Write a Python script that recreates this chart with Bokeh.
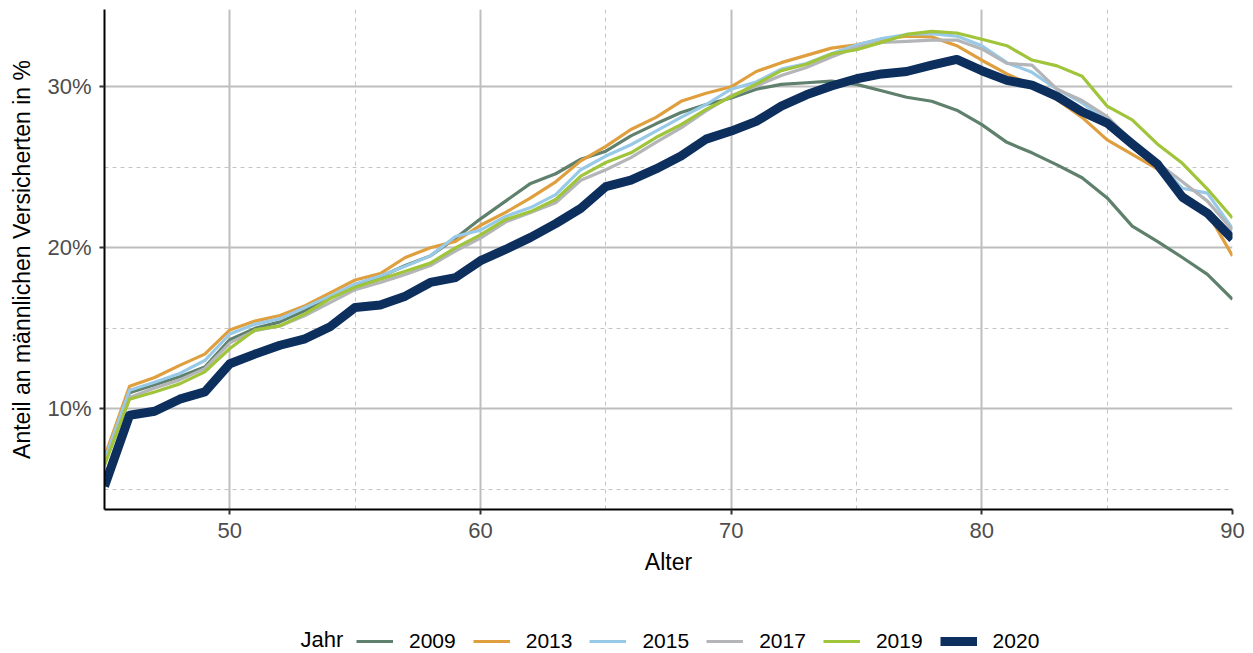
from bokeh.plotting import figure
from bokeh.layouts import column
from bokeh.models import (Range1d, SingleIntervalTicker, PrintfTickFormatter,
                          Legend, LegendItem, Label)
from bokeh.embed import file_html
from bokeh.resources import INLINE

ages = list(range(45, 91))

jahr_2009 = [6.7, 11.0, 11.5, 12.0, 12.6, 14.3, 15.0, 15.4, 16.1, 16.9,
             17.7, 18.2, 18.9, 19.5, 20.6, 21.8, 22.9, 24.0, 24.6, 25.5,
             26.0, 26.95, 27.7, 28.4, 28.9, 29.3, 29.85, 30.15, 30.25, 30.35,
             30.15, 29.75, 29.35, 29.1, 28.55, 27.65, 26.55, 25.9, 25.15, 24.35,
             23.1, 21.35, 20.4, 19.4, 18.35, 16.8]
jahr_2013 = [7.0, 11.4, 11.95, 12.7, 13.4, 14.9, 15.45, 15.8, 16.4, 17.2,
             18.0, 18.4, 19.4, 20.0, 20.4, 21.4, 22.2, 23.1, 24.1, 25.4,
             26.3, 27.35, 28.1, 29.1, 29.6, 30.0, 30.95, 31.5, 31.95, 32.4,
             32.6, 32.95, 33.15, 33.1, 32.55, 31.65, 30.8, 30.1, 29.2, 28.1,
             26.7, 25.8, 24.9, 23.4, 22.2, 19.5]
jahr_2015 = [6.8, 11.15, 11.65, 12.2, 13.0, 14.65, 15.25, 15.6, 16.3, 17.0,
             17.75, 18.25, 18.85, 19.5, 20.7, 21.1, 21.95, 22.5, 23.3, 24.85,
             25.7, 26.4, 27.25, 28.1, 28.9, 29.85, 30.3, 31.1, 31.45, 32.05,
             32.6, 33.0, 33.25, 33.3, 33.15, 32.55, 31.5, 30.9, 29.85, 29.0,
             27.9, 26.6, 25.3, 23.7, 23.4, 21.2]
jahr_2017 = [6.6, 10.7, 11.3, 11.8, 12.5, 14.1, 14.85, 15.15, 15.8, 16.6,
             17.4, 17.85, 18.35, 18.9, 19.8, 20.6, 21.6, 22.2, 22.8, 24.2,
             24.85, 25.6, 26.55, 27.45, 28.5, 29.45, 30.05, 30.7, 31.2, 31.85,
             32.45, 32.75, 32.82, 32.9, 32.9, 32.35, 31.45, 31.35, 29.85, 29.15,
             28.15, 26.6, 25.3, 24.1, 22.9, 21.1]
jahr_2019 = [6.5, 10.6, 11.05, 11.55, 12.3, 13.75, 14.9, 15.15, 15.9, 16.85,
             17.55, 18.05, 18.55, 19.05, 20.0, 20.8, 21.75, 22.25, 23.0, 24.45,
             25.3, 25.9, 26.85, 27.65, 28.6, 29.38, 30.17, 31.0, 31.4, 32.04,
             32.3, 32.76, 33.25, 33.44, 33.34, 32.95, 32.55, 31.66, 31.3, 30.65,
             28.8, 27.95, 26.45, 25.25, 23.65, 21.85]
jahr_2020 = [5.2, 9.6, 9.85, 10.6, 11.05, 12.8, 13.4, 13.95, 14.35, 15.1,
             16.3, 16.45, 17.0, 17.85, 18.15, 19.2, 19.9, 20.65, 21.5, 22.45,
             23.8, 24.2, 24.9, 25.7, 26.75, 27.25, 27.85, 28.8, 29.5, 30.05,
             30.5, 30.8, 30.95, 31.35, 31.7, 31.0, 30.4, 30.1, 29.4, 28.45,
             27.75, 26.45, 25.2, 23.15, 22.15, 20.55]

legend_title = "Jahr"
series_labels = ["2009", "2013", "2015", "2017", "2019", "2020"]
series_values = [jahr_2009, jahr_2013, jahr_2015, jahr_2017, jahr_2019, jahr_2020]
series_colors = ["#5E806C", "#E09F3E", "#98C9E6", "#B3B5B8", "#A0C43A", "#0D2F5E"]
series_widths = [3.2, 3.2, 3.2, 3.2, 3.2, 9]

FONT = "Liberation Sans"
W, H_MAIN, H_LEG = 1253, 600, 53
B_LEFT, B_RIGHT = 104, 21

p = figure(width=W, height=H_MAIN,
           x_range=Range1d(45, 90), y_range=Range1d(3.75, 34.8),
           output_backend="svg", toolbar_location=None,
           min_border_left=B_LEFT, min_border_right=B_RIGHT,
           min_border_top=9, min_border_bottom=91,
           background_fill_color="white", border_fill_color="white")
p.outline_line_color = None

xt = SingleIntervalTicker(interval=10, num_minor_ticks=2)
yt = SingleIntervalTicker(interval=10, num_minor_ticks=2)
p.xaxis.ticker = xt
p.xgrid.ticker = xt
p.yaxis.ticker = yt
p.ygrid.ticker = yt
p.yaxis.formatter = PrintfTickFormatter(format="%d%%")

for g in (p.xgrid, p.ygrid):
    g.grid_line_color = "#BEBEBE"
    g.grid_line_width = 2
    g.minor_grid_line_color = "#C4C4C4"
    g.minor_grid_line_width = 1
    g.minor_grid_line_dash = "4 4"

for ax in (p.xaxis, p.yaxis):
    ax.axis_line_color = "black"
    ax.axis_line_width = 2
    ax.major_tick_line_color = "#333333"
    ax.major_tick_line_width = 2
    ax.major_tick_out = 5
    ax.major_tick_in = 0
    ax.minor_tick_line_color = None
    ax.major_label_text_font = FONT
    ax.major_label_text_font_size = "22px"
    ax.major_label_text_color = "#4D4D4D"
    ax.axis_label_text_font = FONT
    ax.axis_label_text_font_size = "23px"
    ax.axis_label_text_font_style = "normal"
    ax.axis_label_text_color = "black"

p.xaxis.axis_label = "Alter"
p.yaxis.axis_label = "Anteil an männlichen Versicherten in %"
p.xaxis.major_label_standoff = 8
p.xaxis.axis_label_standoff = 8
p.yaxis.major_label_standoff = 8
p.yaxis.axis_label_standoff = 9

for vals, col, w in zip(series_values, series_colors, series_widths):
    p.line(ages, vals, line_color=col, line_width=w, line_join="round")

# legend strip below the chart (frame aligned with the main chart's frame;
# its coordinates equal page pixels)
q = figure(width=W, height=H_LEG,
           x_range=Range1d(B_LEFT, W - B_RIGHT), y_range=Range1d(H_MAIN + H_LEG, H_MAIN),
           output_backend="svg", toolbar_location=None,
           x_axis_location=None, y_axis_location=None,
           min_border_left=B_LEFT, min_border_right=B_RIGHT,
           min_border_top=0, min_border_bottom=0,
           background_fill_color="white", border_fill_color="white")
q.outline_line_color = None
q.grid.visible = False
# legend carrier lines use the real data on a range that lies outside the strip
q.extra_x_ranges = {"hidden": Range1d(1000, 2000)}
q.extra_y_ranges = {"hidden": Range1d(1000, 2000)}

items = []
for lab, vals, col, w in zip(series_labels, series_values, series_colors, series_widths):
    r = q.line(ages, vals, line_color=col, line_width=w,
               x_range_name="hidden", y_range_name="hidden")
    items.append(LegendItem(label=lab, renderers=[r]))

legend = Legend(items=items, orientation="horizontal", location=(252, 0),
                glyph_width=37, glyph_height=20, label_standoff=16, spacing=17,
                padding=0, margin=0, border_line_color=None, background_fill_alpha=0,
                label_text_font=FONT, label_text_font_size="21px",
                label_text_color="black")
q.add_layout(legend)

q.add_layout(Label(x=300, y=639, text=legend_title,
                   text_font=FONT, text_font_size="22px", text_color="black",
                   text_baseline="middle", text_align="left"))

open("out.html", "w").write(file_html(column(p, q, spacing=0), INLINE))
